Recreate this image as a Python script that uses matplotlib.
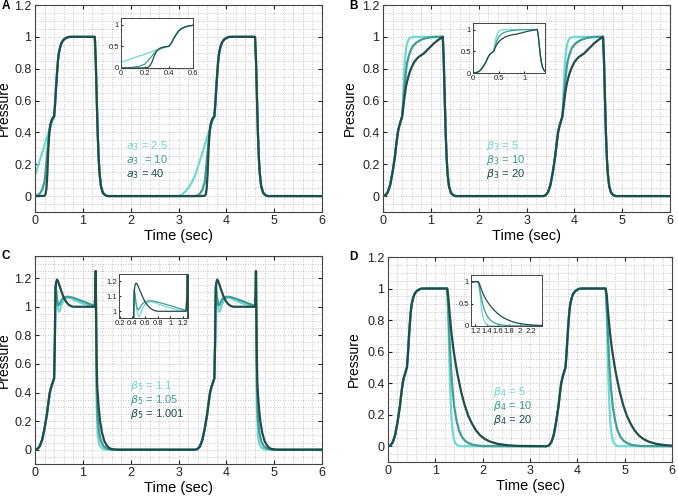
import numpy as np
import matplotlib.pyplot as plt
from matplotlib.ticker import AutoMinorLocator

plt.rcParams["font.family"] = ["Liberation Sans", "DejaVu Sans"]

PERIOD = 3.35
LIGHT = "#6fd8d2"
MID = "#3f9d95"
DARK = "#1f4d4a"

# shared pieces of one cycle (times inside the first cycle)
rise_t = [0.0, 0.05, 0.1, 0.15, 0.2, 0.25, 0.28, 0.31, 0.34, 0.37]
rise_p = [0.0, 0.005, 0.025, 0.07, 0.15, 0.25, 0.33, 0.40, 0.44, 0.47]

up_t = [0.40, 0.42, 0.44, 0.46, 0.48, 0.50, 0.53, 0.56, 0.60, 0.65, 0.70, 0.75]
up_p = [0.50, 0.58, 0.68, 0.77, 0.85, 0.90, 0.94, 0.965, 0.982, 0.993, 0.999, 1.0]

fall_t = [1.25, 1.27, 1.29, 1.31, 1.33, 1.35, 1.38, 1.42, 1.47, 1.52, 2.75]
fall_p = [1.0, 0.85, 0.62, 0.40, 0.24, 0.14, 0.06, 0.02, 0.005, 0.0, 0.0]

# panel A: a3
a_light_t = [-0.35, -0.3, -0.2, -0.1, 0.0, 0.1, 0.2, 0.3, 0.35]
a_light_p = [0.0, 0.005, 0.03, 0.07, 0.13, 0.225, 0.32, 0.42, 0.46]
a_mid_t = [0.0, 0.05, 0.1, 0.15, 0.2, 0.25, 0.28, 0.3, 0.33, 0.36]
a_mid_p = [0.0, 0.005, 0.015, 0.04, 0.09, 0.25, 0.35, 0.40, 0.45, 0.48]
a_dark_t = [0.0, 0.1, 0.2, 0.22, 0.24, 0.26, 0.28, 0.3, 0.32, 0.35, 0.38]
a_dark_p = [0.0, 0.0, 0.002, 0.01, 0.05, 0.15, 0.3, 0.4, 0.45, 0.48, 0.495]

# panel B: beta3 (part after the 0.5 knee)
b_light_t = [0.42, 0.44, 0.46, 0.48, 0.50, 0.53, 0.56, 0.60, 0.65]
b_light_p = [0.62, 0.76, 0.86, 0.92, 0.955, 0.98, 0.992, 0.998, 1.0]
b_mid_t = [0.42, 0.44, 0.46, 0.48, 0.50, 0.53, 0.56, 0.60, 0.65, 0.70, 0.80, 0.90, 1.0, 1.1]
b_mid_p = [0.57, 0.65, 0.72, 0.78, 0.83, 0.87, 0.90, 0.93, 0.95, 0.965, 0.982, 0.992, 0.997, 1.0]
b_dark_t = [0.42, 0.44, 0.46, 0.48, 0.50, 0.53, 0.56, 0.60, 0.65, 0.70, 0.75, 0.80,
            0.85, 0.90, 0.95, 1.0, 1.05, 1.1, 1.15, 1.2, 1.24]
b_dark_p = [0.55, 0.60, 0.645, 0.685, 0.715, 0.75, 0.78, 0.81, 0.84, 0.86, 0.875, 0.885,
            0.895, 0.91, 0.925, 0.94, 0.955, 0.968, 0.98, 0.99, 1.0]

# panel C: beta5 (from the jump to the end of the fall)
c_light_t = [0.415, 0.425, 0.43, 0.45, 0.48, 0.50, 0.52, 0.55, 0.60, 0.65, 0.70, 0.75, 0.80,
             0.90, 1.0, 1.1, 1.2, 1.25, 1.262, 1.27, 1.28, 1.29, 1.31, 1.34, 1.38, 1.45, 1.5, 2.75]
c_light_p = [0.75, 1.05, 1.15, 1.08, 0.99, 0.965, 0.97, 1.01, 1.045, 1.06, 1.065, 1.06, 1.05,
             1.035, 1.022, 1.012, 1.005, 1.0, 1.1, 1.25, 0.6, 0.3, 0.1, 0.04, 0.015, 0.003, 0.0, 0.0]
c_mid_t = [0.415, 0.425, 0.43, 0.44, 0.46, 0.48, 0.50, 0.53, 0.56, 0.60, 0.65, 0.70, 0.80,
           0.90, 1.0, 1.1, 1.2, 1.25, 1.262, 1.27, 1.28, 1.29, 1.31, 1.34, 1.38, 1.43, 1.5, 1.6, 2.75]
c_mid_p = [0.75, 1.05, 1.14, 1.12, 1.05, 1.015, 1.01, 1.03, 1.05, 1.063, 1.07, 1.07, 1.062,
           1.05, 1.038, 1.025, 1.012, 1.005, 1.1, 1.25, 0.7, 0.45, 0.22, 0.12, 0.06, 0.025, 0.008, 0.0, 0.0]
c_dark_t = [0.415, 0.425, 0.43, 0.44, 0.46, 0.48, 0.50, 0.53, 0.56, 0.60, 0.65, 0.70, 0.75,
            0.80, 1.25, 1.262, 1.27, 1.28, 1.29, 1.30, 1.33, 1.36, 1.40, 1.45, 1.50, 1.55, 1.60, 1.7, 2.75]
c_dark_p = [0.75, 1.05, 1.12, 1.17, 1.19, 1.18, 1.16, 1.13, 1.10, 1.065, 1.035, 1.015, 1.005,
            1.0, 1.0, 1.1, 1.25, 0.9, 0.6, 0.45, 0.3, 0.2, 0.12, 0.06, 0.03, 0.012, 0.005, 0.0, 0.0]

# panel D: beta4 (fall after the plateau)
d_light_t = [1.25, 1.27, 1.29, 1.31, 1.33, 1.35, 1.38, 1.42, 1.47, 1.52, 2.75]
d_light_p = [1.0, 0.85, 0.62, 0.40, 0.24, 0.14, 0.06, 0.02, 0.005, 0.0, 0.0]
d_mid_t = [1.25, 1.27, 1.30, 1.33, 1.36, 1.40, 1.45, 1.50, 1.56, 1.63, 1.70, 1.80, 1.90, 2.0, 2.75]
d_mid_p = [1.0, 0.9, 0.68, 0.5, 0.37, 0.25, 0.16, 0.10, 0.06, 0.034, 0.02, 0.009, 0.004, 0.001, 0.0]
d_dark_t = [1.25, 1.27, 1.30, 1.34, 1.38, 1.42, 1.46, 1.50, 1.55, 1.62, 1.70, 1.78, 1.86,
            1.95, 2.05, 2.15, 2.3, 2.5, 2.75]
d_dark_p = [1.0, 0.96, 0.85, 0.72, 0.62, 0.54, 0.47, 0.41, 0.34, 0.26, 0.19, 0.14, 0.10,
            0.068, 0.045, 0.03, 0.016, 0.007, 0.002]


def cycle(*parts):
    t = np.concatenate([np.asarray(pt[0], float) for pt in parts])
    p = np.concatenate([np.asarray(pt[1], float) for pt in parts])
    return np.concatenate([t, t + PERIOD]), np.concatenate([p, p])


rise = (rise_t, rise_p)
up = (up_t, up_p)
fall = (fall_t, fall_p)
knee = ([0.40], [0.50])

series = {
    "A": [cycle((a_light_t, a_light_p), up, fall),
          cycle((a_mid_t, a_mid_p), up, fall),
          cycle((a_dark_t, a_dark_p), up, fall)],
    "B": [cycle(rise, knee, (b_light_t, b_light_p), fall),
          cycle(rise, knee, (b_mid_t, b_mid_p), fall),
          cycle(rise, knee, (b_dark_t, b_dark_p), fall)],
    "C": [cycle(rise, knee, (c_light_t, c_light_p)),
          cycle(rise, knee, (c_mid_t, c_mid_p)),
          cycle(rise, knee, (c_dark_t, c_dark_p))],
    "D": [cycle(rise, up, (d_light_t, d_light_p)),
          cycle(rise, up, (d_mid_t, d_mid_p)),
          cycle(rise, up, (d_dark_t, d_dark_p))],
}

legends = {
    "A": ["$a_3$ = 2.5", "$a_3$  = 10", "$a_3$ = 40"],
    "B": [r"$\beta_3$ = 5", r"$\beta_3$ = 10", r"$\beta_3$ = 20"],
    "C": [r"$\beta_5$ = 1.1", r"$\beta_5$ = 1.05", r"$\beta_5$ = 1.001"],
    "D": [r"$\beta_4$ = 5", r"$\beta_4$ = 10", r"$\beta_4$ = 20"],
}

W, H = 678, 496


def box(l, t, r, b):
    return [l / W, 1 - b / H, (r - l) / W, (b - t) / H]


main_pos = {"A": box(35, 5, 322, 212), "B": box(383, 5, 670, 212),
            "C": box(35, 256, 322, 464), "D": box(388, 257, 672, 462)}
inset_pos = {"A": box(121, 18, 193, 68), "B": box(473, 23, 545, 73),
             "C": box(119, 274, 188, 318), "D": box(471, 275, 542, 326)}
ylims = {"A": (-0.1, 1.2), "B": (-0.1, 1.2), "C": (-0.1, 1.355), "D": (-0.1, 1.2)}
inset_x = {"A": (0, 0.6), "B": (0, 1.4), "C": (0.19, 1.28), "D": (1.12, 2.4)}
inset_y = {"A": (0, 1.15), "B": (0, 1.15), "C": (0.955, 1.25), "D": (0, 1.15)}
inset_xt = {"A": [0, 0.2, 0.4, 0.6], "B": [0, 0.5, 1], "C": [0.2, 0.4, 0.6, 0.8, 1, 1.2],
            "D": [1.2, 1.4, 1.6, 1.8, 2, 2.2]}
inset_yt = {"A": [0, 0.5, 1], "B": [0, 0.5, 1], "C": [1, 1.1, 1.2], "D": [0, 0.5, 1]}
legend_xy = {"A": (126, 146), "B": (486, 146), "C": (130, 386), "D": (493, 392)}
letter_xy = {"A": (2, 6), "B": (349, 6), "C": (2, 256), "D": (349, 257)}
ylabel_x = {"A": 11, "B": 357, "C": 11, "D": 361}
colors = [LIGHT, MID, DARK]

fig = plt.figure(figsize=(6.78, 4.96), dpi=100)

for key in ["A", "B", "C", "D"]:
    ax = fig.add_axes(main_pos[key])
    for (t, p), c in zip(series[key], colors):
        ax.plot(t, p, color=c, lw=1.6, solid_joinstyle="round")
    ax.set_xlim(0, 6)
    ax.set_ylim(*ylims[key])
    ax.set_xticks(range(7))
    ax.set_yticks([0, 0.2, 0.4, 0.6, 0.8, 1, 1.2])
    ax.set_yticklabels(["0", "0.2", "0.4", "0.6", "0.8", "1", "1.2"])
    ax.xaxis.set_minor_locator(AutoMinorLocator(5))
    ax.yaxis.set_minor_locator(AutoMinorLocator(4))
    ax.grid(which="both", linestyle=(0, (1, 2)), color="#b5b5b5", linewidth=0.6)
    ax.tick_params(which="major", direction="in", top=True, right=True, length=3,
                   labelsize=9, colors="#222222", pad=2.5)
    ax.tick_params(which="minor", length=0)
    for s in ax.spines.values():
        s.set_color("#444444")
        s.set_linewidth(0.8)
    ax.set_xlabel("Time (sec)", fontsize=10.5, labelpad=1)
    ax.set_ylabel("Pressure", fontsize=10)
    pos = main_pos[key]
    ax.yaxis.set_label_coords((ylabel_x[key] / W - pos[0]) / pos[2], 0.5)

    lx, ly = legend_xy[key]
    for i, (txt, c) in enumerate(zip(legends[key], colors)):
        fig.text(lx / W, 1 - (ly + i * 14) / H, txt, color=c, fontsize=8,
                 ha="left", va="center")
    x0, y0 = letter_xy[key]
    fig.text(x0 / W, 1 - y0 / H, key, fontsize=8.5, fontweight="bold", ha="left", va="center")

    ins = fig.add_axes(inset_pos[key])
    for (t, p), c in zip(series[key], colors):
        ins.plot(t, p, color=c, lw=0.9)
    ins.set_xlim(*inset_x[key])
    ins.set_ylim(*inset_y[key])
    ins.set_xticks(inset_xt[key])
    ins.set_xticklabels([f"{v:g}" for v in inset_xt[key]])
    ins.set_yticks(inset_yt[key])
    ins.set_yticklabels([f"{v:g}" for v in inset_yt[key]])
    ins.tick_params(direction="in", length=1.5, labelsize=5.5, pad=1.5, colors="#222222")
    for s in ins.spines.values():
        s.set_color("#444444")
        s.set_linewidth(0.7)

fig.savefig("out.png", dpi=100)
